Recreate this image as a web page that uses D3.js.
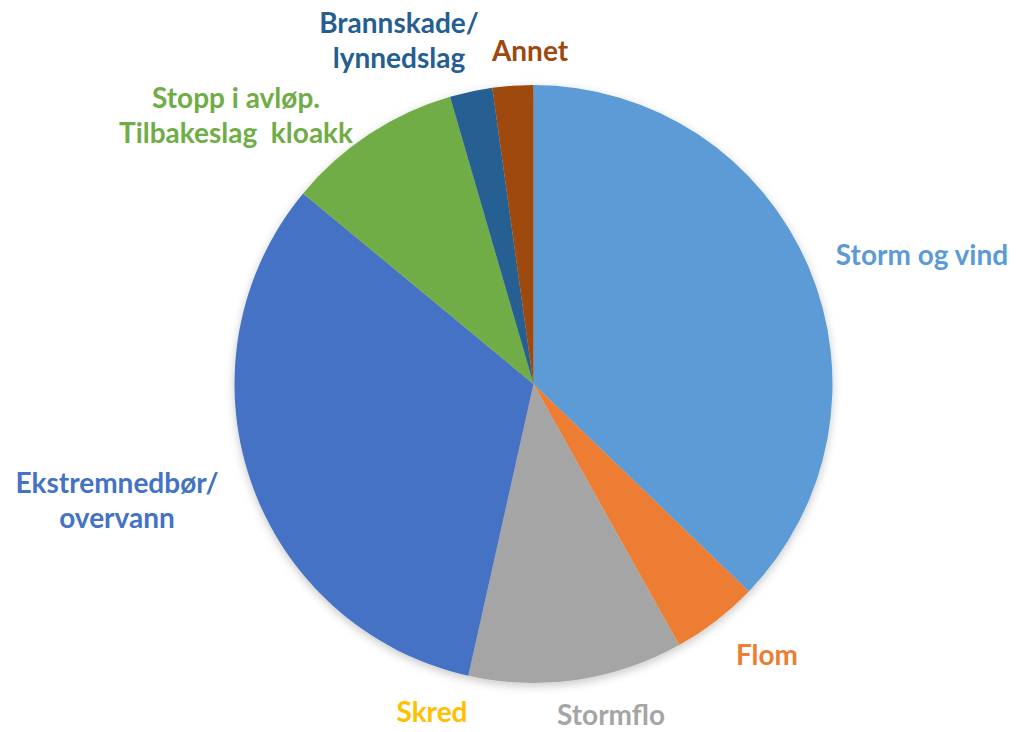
<!DOCTYPE html>
<html>
<head>
<meta charset="utf-8">
<script src="https://cdn.jsdelivr.net/npm/d3@7"></script>
<style>
  html, body { margin: 0; padding: 0; background: #ffffff; }
  svg { display: block; }
  text { font-family: Lato, "Open Sans", sans-serif; font-weight: 700; }
</style>
</head>
<body>
<svg id="chart" width="1016" height="732"></svg>
<script>
// Share of insurance claims by cause (percent)
const categories = ["Storm og vind", "Flom", "Stormflo", "Skred", "Ekstremnedbør/ overvann",
                    "Stopp i avløp. Tilbakeslag  kloakk", "Brannskade/ lynnedslag", "Annet"];
const values = [37.2, 4.7, 11.6, 0, 32.5, 9.5, 2.3, 2.2];
const colors = ["#5B9BD5", "#ED7D31", "#A5A5A5", "#FFC000", "#4472C4", "#70AD47", "#255E91", "#9E480E"];

// Label text lines and anchor points (centre x, first baseline y)
const labelLines = [
  ["Storm og vind"], ["Flom"], ["Stormflo"], ["Skred"],
  ["Ekstremnedbør/", "overvann"],
  ["Stopp i avløp.", "Tilbakeslag  kloakk"],
  ["Brannskade/", "lynnedslag"], ["Annet"]
];
const labelAnchors = [
  [922, 265], [767, 665], [611, 725], [432, 722],
  [117, 493], [236, 108], [399, 33], [530, 61]
];
const lineGap = 35;

const svg = d3.select("#chart");
const cx = 533.5, cy = 384, radius = 299;

const defs = svg.append("defs");
const f = defs.append("filter").attr("id", "soft").attr("x", "-20%").attr("y", "-20%")
  .attr("width", "140%").attr("height", "140%");
f.append("feDropShadow").attr("dx", 0).attr("dy", 3).attr("stdDeviation", 5)
  .attr("flood-color", "#000").attr("flood-opacity", 0.22);

const pie = d3.pie().sort(null).value(d => d.value);
const arc = d3.arc().innerRadius(0).outerRadius(radius);
const data = categories.map((c, i) => ({ name: c, value: values[i], color: colors[i] }));

const g = svg.append("g").attr("transform", `translate(${cx},${cy})`).attr("filter", "url(#soft)");
g.selectAll("path")
  .data(pie(data).filter(d => d.data.value > 0))
  .join("path")
  .attr("d", arc)
  .attr("fill", d => d.data.color);

const labels = svg.append("g");
data.forEach((d, i) => {
  const t = labels.append("text")
    .attr("text-anchor", "middle")
    .attr("font-size", 28)
    .attr("fill", d.color);
  labelLines[i].forEach((line, j) => {
    t.append("tspan")
      .attr("x", labelAnchors[i][0])
      .attr("y", labelAnchors[i][1] + j * lineGap)
      .attr("xml:space", "preserve")
      .style("white-space", "pre")
      .text(line);
  });
});
</script>
</body>
</html>
